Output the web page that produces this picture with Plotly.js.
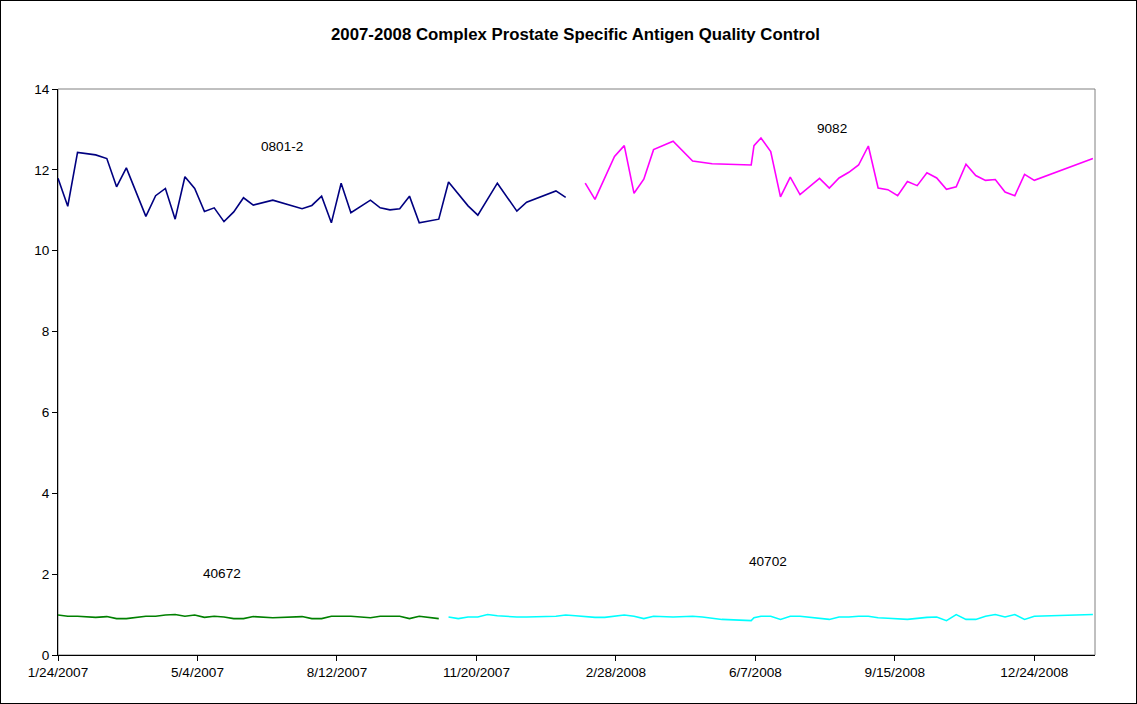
<!DOCTYPE html>
<html>
<head>
<meta charset="utf-8">
<script src="https://cdn.plot.ly/plotly-3.0.1.min.js"></script>
<style>
  html, body { margin: 0; padding: 0; background: #fff; }
  #wrap { position: relative; width: 1137px; height: 704px; }
  #chart { width: 1137px; height: 704px; }
  #frame { position: absolute; left: 0; top: 0; width: 1135px; height: 702px; border: 1px solid #000; pointer-events: none; }
</style>
</head>
<body>
<div id="wrap"><div id="chart"></div><div id="frame"></div></div>
<script>
// ---- Data ----
const dates08012 = ["2007-01-24","2007-01-31","2007-02-07","2007-02-20","2007-02-28","2007-03-07","2007-03-14","2007-03-28","2007-04-04","2007-04-11","2007-04-18","2007-04-25","2007-05-02","2007-05-09","2007-05-16","2007-05-23","2007-05-30","2007-06-06","2007-06-13","2007-06-27","2007-07-18","2007-07-25","2007-08-01","2007-08-08","2007-08-15","2007-08-22","2007-09-05","2007-09-12","2007-09-19","2007-09-26","2007-10-03","2007-10-10","2007-10-24","2007-10-31","2007-11-14","2007-11-21","2007-12-05","2007-12-19","2007-12-26","2008-01-16","2008-01-23"];
const values08012 = [11.79,11.10,12.43,12.37,12.28,11.58,12.05,10.85,11.36,11.54,10.78,11.83,11.54,10.97,11.06,10.72,10.96,11.31,11.13,11.25,11.04,11.12,11.35,10.69,11.67,10.94,11.25,11.06,11.01,11.04,11.35,10.69,10.78,11.70,11.11,10.88,11.67,10.98,11.20,11.48,11.32];

const dates40672 = ["2007-01-24","2007-01-31","2007-02-07","2007-02-20","2007-02-28","2007-03-07","2007-03-14","2007-03-28","2007-04-04","2007-04-11","2007-04-18","2007-04-25","2007-05-02","2007-05-09","2007-05-16","2007-05-23","2007-05-30","2007-06-06","2007-06-13","2007-06-27","2007-07-18","2007-07-25","2007-08-01","2007-08-08","2007-08-15","2007-08-22","2007-09-05","2007-09-12","2007-09-19","2007-09-26","2007-10-03","2007-10-10","2007-10-24"];
const values40672 = [0.99,0.96,0.96,0.93,0.95,0.90,0.90,0.96,0.96,0.99,1.00,0.96,0.99,0.93,0.96,0.94,0.90,0.90,0.95,0.92,0.95,0.90,0.90,0.96,0.96,0.96,0.92,0.96,0.96,0.96,0.90,0.96,0.90];

const dates9082 = ["2008-02-06","2008-02-13","2008-02-27","2008-03-05","2008-03-12","2008-03-19","2008-03-26","2008-04-09","2008-04-23","2008-05-07","2008-06-04","2008-06-06","2008-06-11","2008-06-18","2008-06-25","2008-07-02","2008-07-09","2008-07-23","2008-07-30","2008-08-06","2008-08-13","2008-08-20","2008-08-27","2008-09-03","2008-09-10","2008-09-17","2008-09-24","2008-10-01","2008-10-08","2008-10-15","2008-10-22","2008-10-29","2008-11-05","2008-11-12","2008-11-19","2008-11-26","2008-12-03","2008-12-10","2008-12-17","2008-12-24","2009-02-04"];
const values9082 = [11.67,11.27,12.33,12.60,11.42,11.77,12.50,12.71,12.22,12.15,12.12,12.60,12.79,12.45,11.33,11.82,11.39,11.79,11.55,11.80,11.94,12.12,12.59,11.55,11.51,11.36,11.71,11.61,11.93,11.80,11.52,11.58,12.14,11.86,11.74,11.76,11.45,11.36,11.89,11.74,12.28];

const dates40702 = ["2007-10-31","2007-11-07","2007-11-14","2007-11-21","2007-11-28","2007-12-05","2007-12-19","2007-12-26","2008-01-16","2008-01-23","2008-01-30","2008-02-13","2008-02-20","2008-03-05","2008-03-12","2008-03-19","2008-03-26","2008-04-09","2008-04-23","2008-04-30","2008-05-14","2008-06-04","2008-06-06","2008-06-11","2008-06-18","2008-06-25","2008-07-02","2008-07-09","2008-07-30","2008-08-06","2008-08-13","2008-08-20","2008-08-27","2008-09-03","2008-09-10","2008-09-24","2008-10-08","2008-10-15","2008-10-22","2008-10-29","2008-11-05","2008-11-12","2008-11-19","2008-11-26","2008-12-03","2008-12-10","2008-12-17","2008-12-24","2009-02-04"];
const values40702 = [0.94,0.90,0.94,0.94,1.00,0.97,0.94,0.94,0.96,0.99,0.97,0.93,0.93,0.99,0.96,0.90,0.96,0.94,0.96,0.94,0.88,0.85,0.92,0.96,0.96,0.88,0.96,0.96,0.88,0.94,0.94,0.96,0.96,0.92,0.91,0.88,0.93,0.94,0.85,1.00,0.88,0.88,0.96,1.00,0.94,1.00,0.88,0.96,1.00];

const seriesNames = ["0801-2","40672","9082","40702"];
const seriesColors = ["#000080","#008000","#FF00FF","#00FFFF"];
const titleText = "2007-2008 Complex Prostate Specific Antigen Quality Control";

// ---- Chart ----
const allDates = [dates08012, dates40672, dates9082, dates40702];
const allValues = [values08012, values40672, values9082, values40702];
const traces = allDates.map((d, i) => ({
  x: d, y: allValues[i], type: "scatter", mode: "lines", name: seriesNames[i],
  line: { color: seriesColors[i], width: 1.6 }, showlegend: false
}));

const font = { family: "Liberation Sans, Arial, sans-serif", size: 13.6, color: "#000" };

function label(text, px, py) {
  return { text: text, xref: "paper", yref: "paper", x: (px - 58) / 1037, y: (655 - py) / 566,
           xanchor: "center", yanchor: "middle", showarrow: false, font: font };
}

const layout = {
  width: 1137, height: 704,
  margin: { l: 58, r: 42, t: 89, b: 49 },
  paper_bgcolor: "#fff", plot_bgcolor: "#fff",
  font: font,
  title: { text: "<b>" + titleText + "</b>", font: { family: font.family, size: 16.8, color: "#000" },
           x: 575.5 / 1137, xanchor: "center", y: 1 - 34 / 704, yanchor: "middle", xref: "container", yref: "container" },
  xaxis: {
    type: "date", range: ["2007-01-24", "2009-02-05 12:00"],
    tick0: "2007-01-24", dtick: 100 * 86400000, tickformat: "%-m/%-d/%Y",
    ticks: "outside", ticklen: 5, tickcolor: "#000", tickwidth: 1,
    showline: true, linecolor: "#000", linewidth: 1, showgrid: false, zeroline: false,
    tickfont: font
  },
  yaxis: {
    range: [0, 14], dtick: 2, tick0: 0,
    ticks: "outside", ticklen: 5, tickcolor: "#000", tickwidth: 1,
    showline: true, linecolor: "#000", linewidth: 1, showgrid: false, zeroline: false,
    tickfont: font
  },
  shapes: [
    { type: "rect", xref: "paper", yref: "paper", x0: 0, x1: 1, y0: 0, y1: 1,
      line: { color: "#808080", width: 1 }, layer: "below" }
  ],
  annotations: [
    label(seriesNames[0], 281.5, 146),
    label(seriesNames[2], 832, 129),
    label(seriesNames[1], 222, 573),
    label(seriesNames[3], 768, 561)
  ]
};

Plotly.newPlot("chart", traces, layout, { displayModeBar: false, staticPlot: true });
</script>
</body>
</html>
